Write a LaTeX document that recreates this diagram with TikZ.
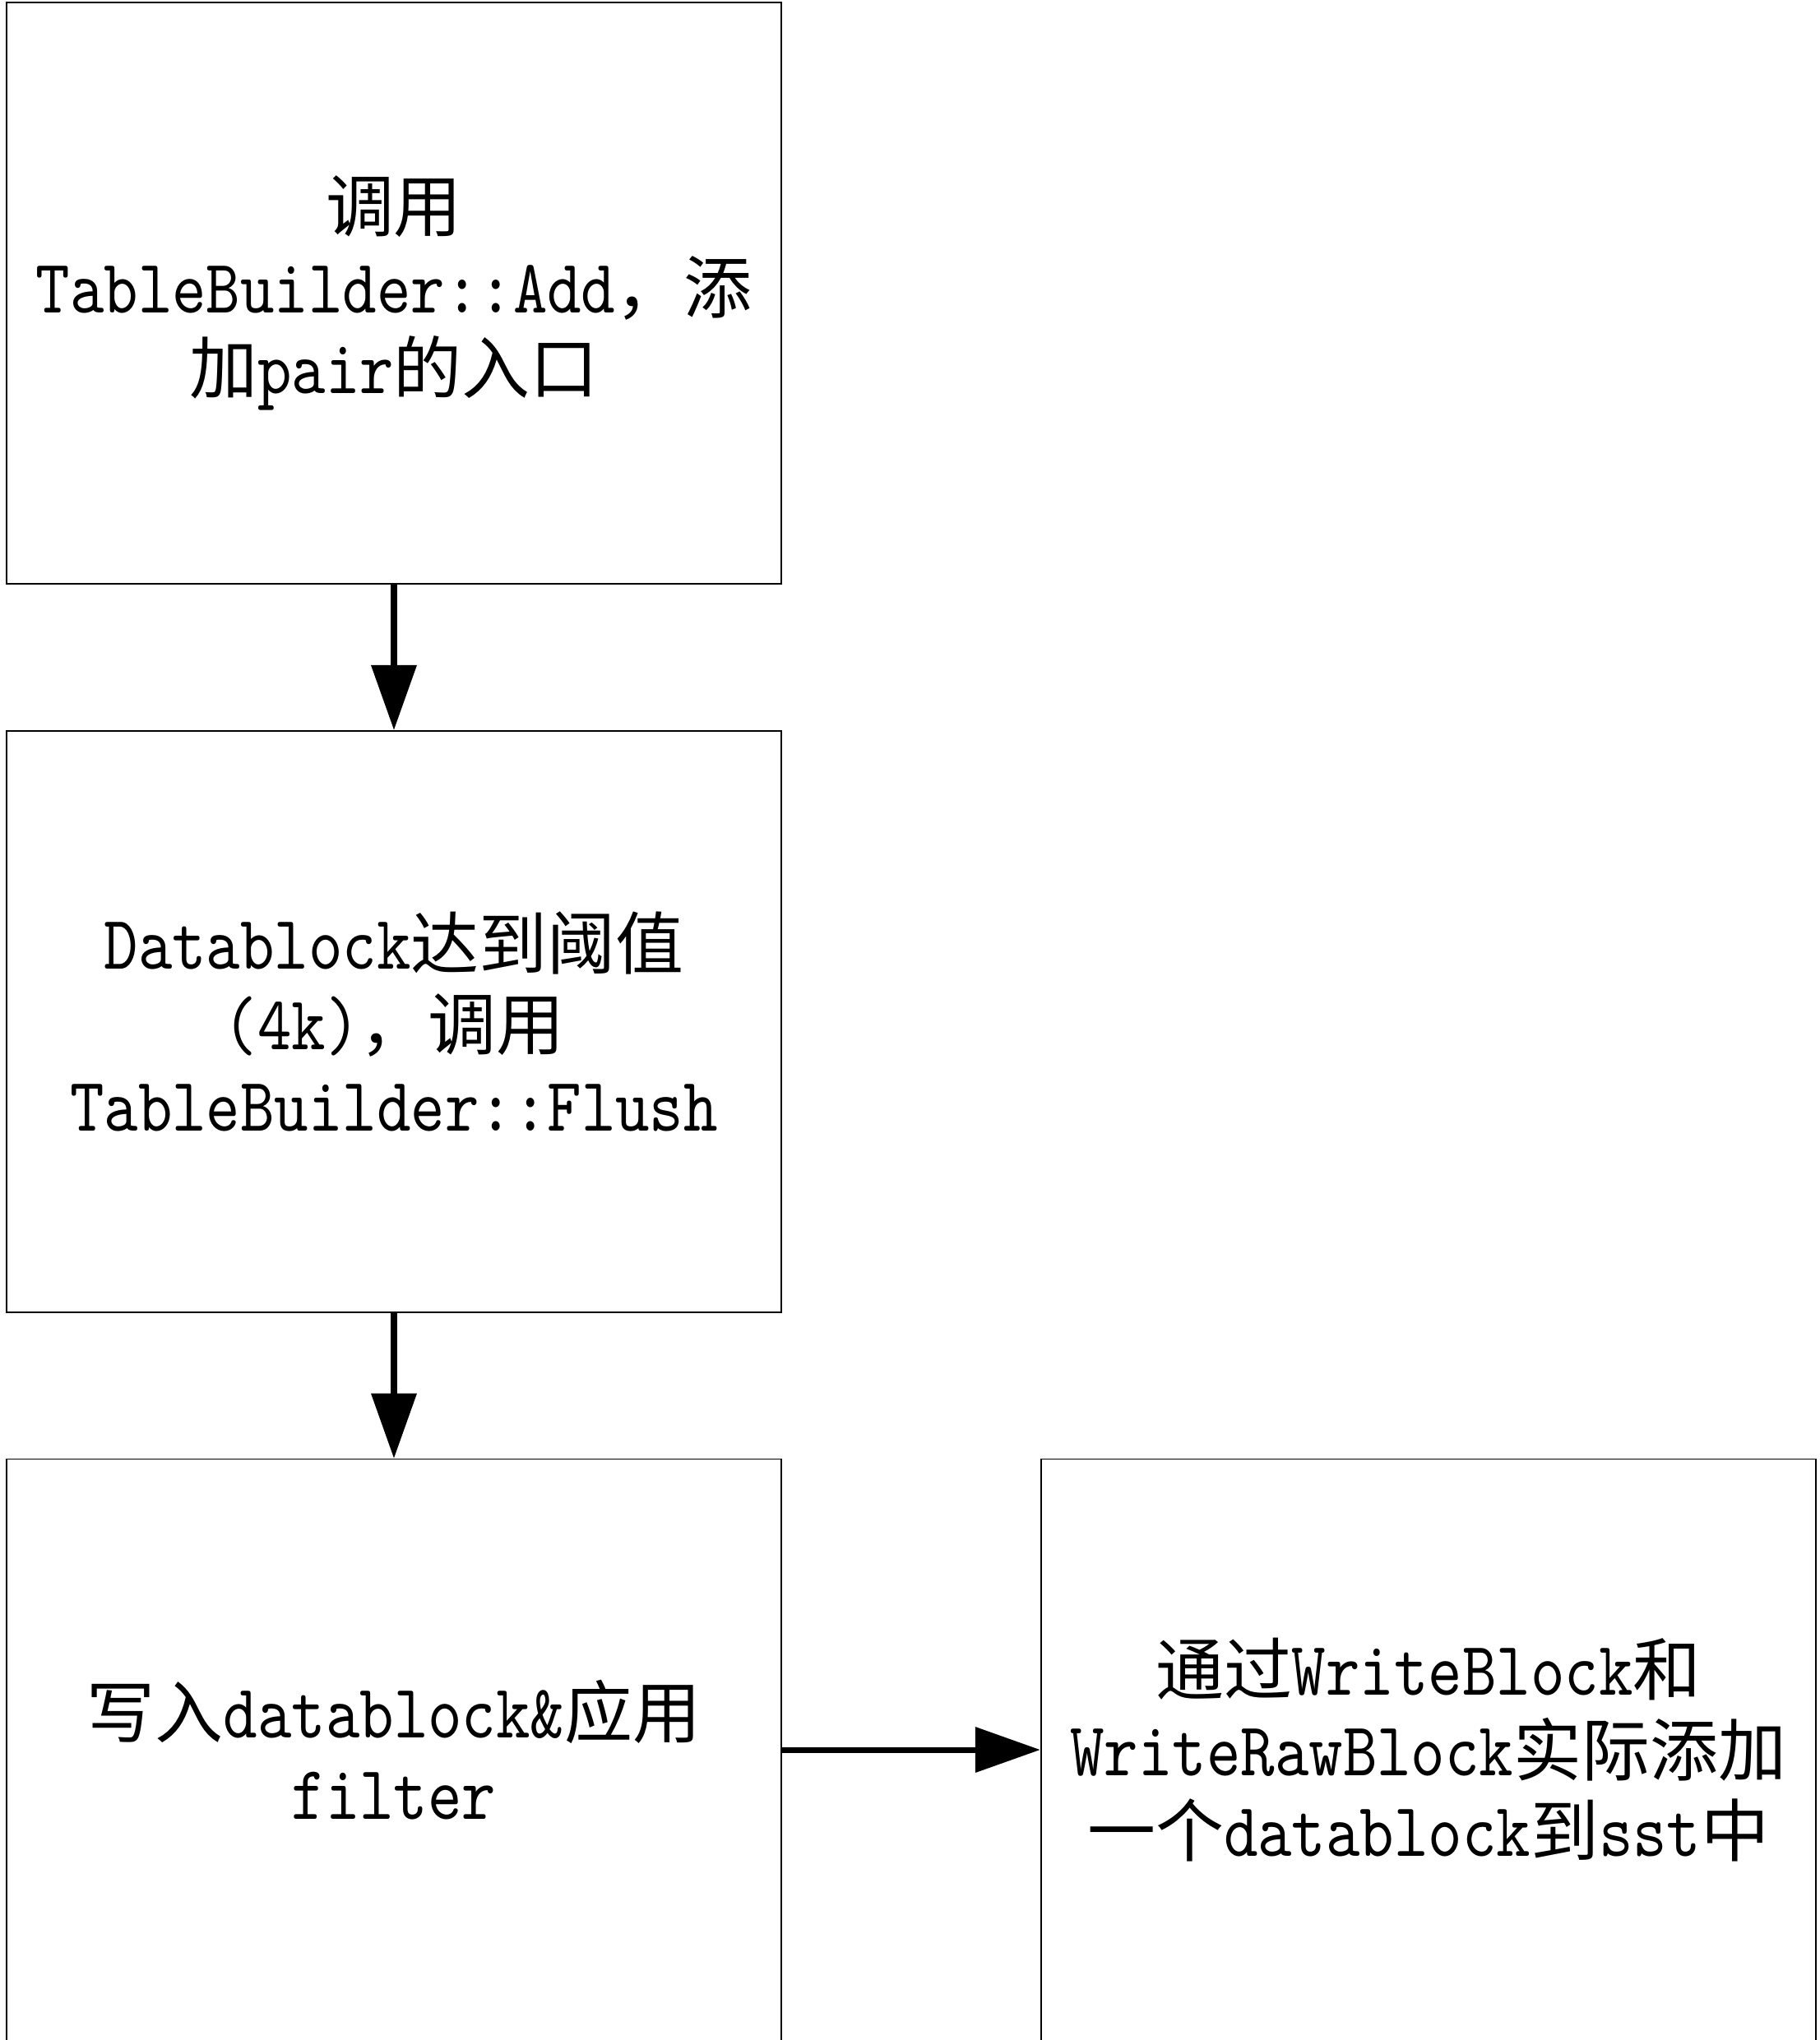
\documentclass[tikz,border=0pt]{standalone}
\usepackage{fontspec}
\setmonofont{lmmono10-regular.otf}[Scale=1.12, FakeStretch=0.85]
\newfontfamily\cjk{Noto Sans CJK SC}
\newcommand{\zh}[1]{{\cjk #1}}
\usetikzlibrary{arrows.meta, positioning}

\tikzset{
  etape/.style={draw, line width=0.5pt, minimum width=9.42cm, minimum height=7.07cm,
    inner sep=0pt, align=center, font=\fontsize{23.6}{28}\selectfont\ttfamily},
  fleche/.style={line width=2pt, -{Triangle[length=0.79cm, width=0.54cm]}}
}

\begin{document}
\begin{tikzpicture}
    \useasboundingbox (0,0) rectangle (22.13,-24.81);

    % Les quatre étapes
    \node[etape] (ajout) at (4.79,-3.565) {\zh{调用}\\TableBuilder::Add\zh{，添}\\\zh{加}pair\zh{的入口}};
    \node[etape, below=1.77cm of ajout] (flush) {Datablock\zh{达到阈值}\\(4k)\zh{，调用}\\TableBuilder::Flush};
    \node[etape, below=1.77cm of flush] (ecrire) {\zh{写入}datablock\&\zh{应用}\\filter};
    \node[etape, right=3.14cm of ecrire] (bloc) {\zh{通过}WriteBlock\zh{和}\\WriteRawBlock\zh{实际添加}\\\zh{一个}datablock\zh{到}sst\zh{中}};

    % Les flèches entre les étapes
    \draw[fleche] (ajout) -- (flush);
    \draw[fleche] (flush) -- (ecrire);
    \draw[fleche] (ecrire) -- (bloc);
\end{tikzpicture}
\end{document}
